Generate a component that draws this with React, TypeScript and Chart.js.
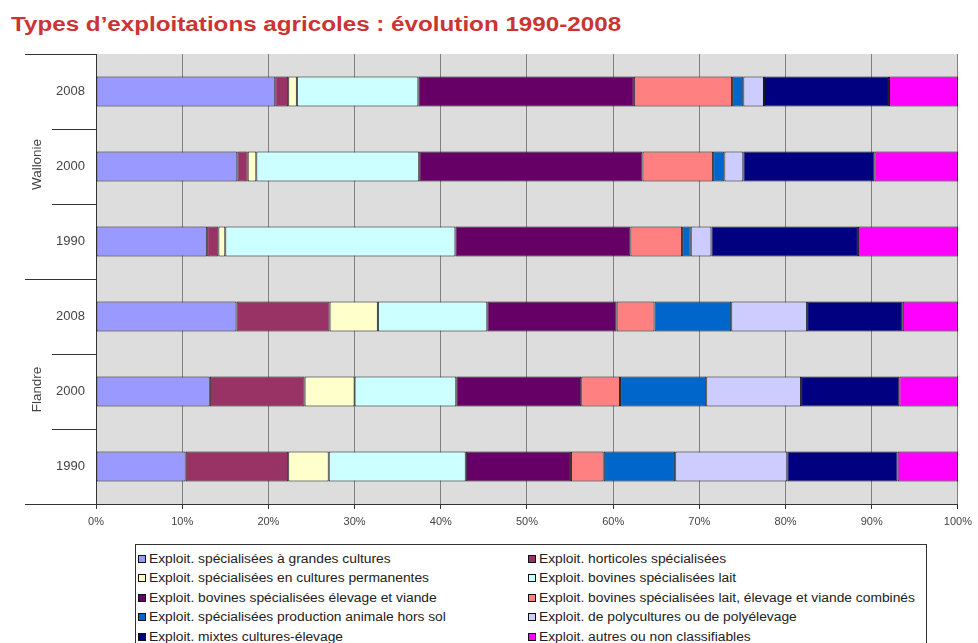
import React, { useEffect, useRef } from "react";
import { Chart, registerables } from "chart.js";

Chart.register(...registerables);

const title = "Types d\u2019exploitations agricoles : évolution 1990-2008";
const yearLabels = ["2008", "2000", "1990", "2008", "2000", "1990"];
const regions = ["Wallonie", "Flandre"];
const xTicks = [0, 10, 20, 30, 40, 50, 60, 70, 80, 90, 100];

const seriesNames = [
  "Exploit. spécialisées à grandes cultures",
  "Exploit. horticoles spécialisées",
  "Exploit. spécialisées en cultures permanentes",
  "Exploit. bovines spécialisées lait",
  "Exploit. bovines spécialisées élevage et viande",
  "Exploit. bovines spécialisées lait, élevage et viande combinés",
  "Exploit. spécialisées production animale hors sol",
  "Exploit. de polycultures ou de polyélevage",
  "Exploit. mixtes cultures-élevage",
  "Exploit. autres ou non classifiables",
];
const seriesColors = [
  "#9999FF", "#993366", "#FFFFCC", "#CCFFFF", "#660066",
  "#FF8080", "#0066CC", "#CCCCFF", "#000080", "#FF00FF",
];

// rows: Wallonie 2008, 2000, 1990, Flandre 2008, 2000, 1990
const grandesCultures = [20.8, 16.4, 12.9, 16.3, 13.2, 10.4];
const horticoles = [1.5, 1.2, 1.3, 10.8, 11.0, 11.9];
const culturesPermanentes = [1.0, 1.0, 0.8, 5.6, 5.8, 4.7];
const bovinesLait = [14.1, 18.9, 26.7, 12.7, 11.8, 15.9];
const bovinesViande = [25.0, 25.9, 20.3, 15.0, 14.5, 12.2];
const bovinesCombines = [11.4, 8.2, 6.0, 4.4, 4.5, 3.8];
const horsSol = [1.3, 1.3, 1.0, 8.9, 10.0, 8.3];
const polycultures = [2.4, 2.2, 2.4, 8.8, 11.0, 13.0];
const mixtes = [14.5, 15.2, 17.0, 11.1, 11.4, 12.8];
const autres = [8.0, 9.7, 11.6, 6.4, 6.8, 7.0];

const seriesValues = [
  grandesCultures, horticoles, culturesPermanentes, bovinesLait, bovinesViande,
  bovinesCombines, horsSol, polycultures, mixtes, autres,
];

const FONT = "'Liberation Sans', Arial, sans-serif";

const groupPlugin = {
  id: "groupLabels",
  beforeDraw(chart: any) {
    const { ctx, chartArea } = chart;
    ctx.save();
    ctx.fillStyle = "#DDDDDD";
    ctx.fillRect(chartArea.left, chartArea.top, chartArea.right - chartArea.left, chartArea.bottom - chartArea.top);
    ctx.restore();
  },
  afterDraw(chart: any) {
    const { ctx, chartArea } = chart;
    const yScale = chart.scales.y;
    const n = yearLabels.length;
    const step = (chartArea.bottom - chartArea.top) / n;
    ctx.save();
    ctx.strokeStyle = "#333";
    ctx.lineWidth = 1;
    for (let i = 0; i <= n; i++) {
      const y = Math.round(chartArea.top + i * step) + 0.5;
      const long = i % 3 === 0;
      ctx.beginPath();
      ctx.moveTo(long ? 25 : 52, y);
      ctx.lineTo(chartArea.left, y);
      ctx.stroke();
    }
    ctx.fillStyle = "#444";
    ctx.font = `12px ${FONT}`;
    ctx.textAlign = "center";
    ctx.textBaseline = "middle";
    regions.forEach((r, g) => {
      const yc = yScale.getPixelForValue(g * 3 + 1) - 2;
      ctx.save();
      ctx.translate(38, yc);
      ctx.rotate(-Math.PI / 2);
      ctx.scale(1.12, 1);
      ctx.fillText(r, 0, 0);
      ctx.restore();
    });
    ctx.restore();
  },
};

export default function App() {
  const ref = useRef<HTMLCanvasElement>(null);
  useEffect(() => {
    document.body.style.margin = "0";
    const chart = new Chart(ref.current!, {
      type: "bar",
      data: {
        labels: yearLabels,
        datasets: seriesNames.map((name, i) => ({
          label: name,
          data: seriesValues[i],
          backgroundColor: seriesColors[i],
          borderColor: "#1a1a1a",
          borderWidth: 1,
          borderSkipped: false,
          categoryPercentage: 1,
          barPercentage: 0.4,
        })),
      },
      options: {
        indexAxis: "y",
        animation: false,
        responsive: false,
        maintainAspectRatio: false,
        layout: { padding: { left: 0, top: 54, right: 16, bottom: 109 } },
        plugins: { legend: { display: false }, title: { display: false }, tooltip: { enabled: false } },
        scales: {
          x: {
            stacked: true,
            min: 0,
            max: 100,
            afterBuildTicks: (scale: any) => {
              scale.ticks = xTicks.map((v) => ({ value: v }));
            },
            afterFit: (scale: any) => {
              scale.height = 30;
            },
            ticks: {
              callback: (v: any) => v + "%",
              color: "#444",
              font: { family: FONT, size: 11 },
              padding: 6,
              maxRotation: 0,
            },
            grid: { color: "#808080", tickColor: "#333", tickLength: 5, lineWidth: 1 },
            border: { display: true, color: "#333", width: 1 },
          },
          y: {
            stacked: true,
            afterFit: (scale: any) => {
              scale.width = 96;
            },
            ticks: {
              color: "#444",
              font: { family: FONT, size: 13 },
              padding: 11,
            },
            grid: { display: false, drawTicks: false },
            border: { display: true, color: "#333", width: 1 },
          },
        },
      },
      plugins: [groupPlugin],
    } as any);
    return () => chart.destroy();
  }, []);

  const rows: number[][] = [];
  for (let i = 0; i < seriesNames.length; i += 2) rows.push([i, i + 1]);

  return (
    <div style={{ position: "relative", width: 978, height: 643, overflow: "hidden", background: "#fff", fontFamily: FONT }}>
      <div
        style={{
          position: "absolute",
          left: 11,
          top: 11,
          fontSize: 20,
          fontWeight: "bold",
          color: "#CC3333",
          whiteSpace: "nowrap",
          lineHeight: "26px",
          transform: "scaleX(1.21)",
          transformOrigin: "0 0",
        }}
      >
        {title}
      </div>
      <canvas ref={ref} width={978} height={643} style={{ position: "absolute", left: 0, top: 0 }} />
      <div
        style={{
          position: "absolute",
          left: 135,
          top: 544,
          width: 792,
          height: 120,
          border: "1px solid #333",
          boxSizing: "border-box",
          background: "#fff",
        }}
      >
        {rows.map((pair, r) => (
          <div key={r} style={{ position: "absolute", top: 5 + r * 19.4, left: 0, height: 18, width: "100%" }}>
            {pair.map((idx, c) => (
              <div
                key={idx}
                style={{
                  position: "absolute",
                  left: c === 0 ? 2 : 392,
                  top: 0,
                  height: 18,
                  display: "flex",
                  alignItems: "center",
                  whiteSpace: "nowrap",
                  fontSize: 12,
                  color: "#222",
                }}
              >
                <span
                  style={{
                    display: "inline-block",
                    width: 6,
                    height: 6,
                    background: seriesColors[idx],
                    border: "1px solid #111",
                    marginRight: 3,
                  }}
                />
                <span style={{ display: "inline-block", transform: "scaleX(1.15)", transformOrigin: "0 50%" }}>
                  {seriesNames[idx]}
                </span>
              </div>
            ))}
          </div>
        ))}
      </div>
    </div>
  );
}
